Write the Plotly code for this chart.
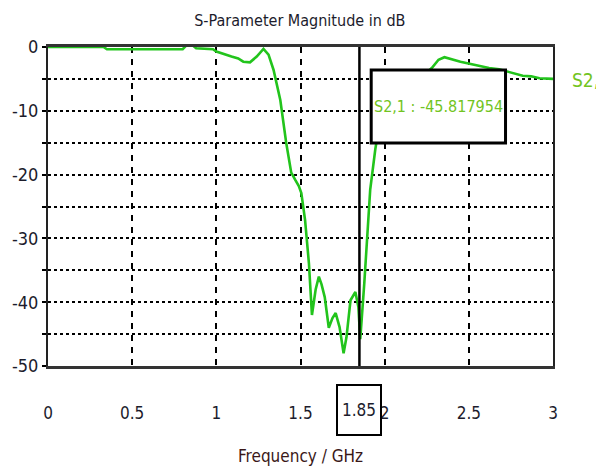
import plotly.graph_objects as go

# ---- data ----
freq_ghz = [0.0, 0.2, 0.33, 0.35, 0.6, 0.8, 0.82, 0.86, 0.88, 0.98, 1.0, 1.05, 1.09, 1.13,
            1.16, 1.2, 1.24, 1.28, 1.31, 1.34, 1.38, 1.415, 1.445, 1.468, 1.49, 1.505,
            1.527, 1.55, 1.568, 1.59, 1.609, 1.625, 1.644, 1.668, 1.69, 1.709, 1.732,
            1.756, 1.773, 1.797, 1.826, 1.844, 1.855, 1.879, 1.897, 1.914, 1.944, 1.96,
            2.05, 2.15, 2.25, 2.28, 2.32, 2.355, 2.45, 2.53, 2.62, 2.68, 2.73, 2.78,
            2.82, 2.87, 2.92, 3.0]
s21_db = [0.0, 0.0, 0.0, -0.35, -0.35, -0.35, 0.2, 0.25, -0.2, -0.35, -0.7, -1.2, -1.5, -1.8,
          -2.3, -2.4, -1.5, -0.3, -1.2, -3.6, -8.3, -15.0, -19.7, -20.8, -21.8, -22.9,
          -27.1, -33.9, -42.0, -38.0, -36.0, -37.2, -39.2, -44.0, -42.5, -41.7, -43.9,
          -48.0, -45.5, -39.7, -38.4, -40.8, -45.8, -37.0, -29.2, -22.4, -16.1, -13.5,
          -8.0, -5.5, -4.0, -3.3, -2.0, -1.6, -2.3, -2.8, -3.3, -3.5, -3.9, -4.2,
          -4.5, -4.6, -4.9, -5.0]
series_name = "S2,1"
marker_freq = 1.85
marker_value = -45.817954

x_tickvals = [0, 0.5, 1, 1.5, 2, 2.5, 3]
x_ticktext = ["0", "0.5", "1", "1.5", "2", "2.5", "3"]
y_tickvals = [0, -5, -10, -15, -20, -25, -30, -35, -40, -45, -50]
y_ticktext = ["0", "", "-10", "", "-20", "", "-30", "", "-40", "", "-50"]

FONT = "DejaVu Sans Condensed, Liberation Sans Narrow, sans-serif"
DARK = "#1c1c2c"
LINE_GREEN = "#22c41c"
TEXT_GREEN = "#72c422"

fig = go.Figure()
fig.add_trace(go.Scatter(x=freq_ghz, y=s21_db, mode="lines", name=series_name,
                         line=dict(color=LINE_GREEN, width=2.6), showlegend=False))

fig.update_layout(
    width=596, height=470,
    margin=dict(l=42, r=43, t=47, b=104),
    paper_bgcolor="white", plot_bgcolor="white",
    font=dict(family=FONT, color=DARK),
    title=dict(text="S-Parameter Magnitude in dB", x=0.503, xanchor="center",
               y=1 - 20 / 470, yanchor="middle",
               font=dict(family=FONT, size=16, color=DARK)),
)

fig.update_xaxes(range=[0, 3], tickvals=x_tickvals, ticktext=x_ticktext,
                 showgrid=True, gridcolor="black", gridwidth=1.5, griddash="6px,6px",
                 showline=True, linecolor="#333333", linewidth=2.5, mirror=True,
                 zeroline=False, ticks="", ticklabelstandoff=30,
                 tickfont=dict(family=FONT, size=17, color=DARK))
fig.update_yaxes(range=[-50, 0], tickvals=y_tickvals, ticktext=y_ticktext,
                 showgrid=True, gridcolor="black", gridwidth=2, griddash="dot",
                 showline=True, linecolor="#222222", linewidth=2, mirror=True,
                 zeroline=False, ticks="outside", ticklen=4, tickwidth=2, tickcolor="black",
                 tickfont=dict(family=FONT, size=18, color=DARK))

# marker line
fig.add_shape(type="line", xref="x", yref="paper", x0=marker_freq, x1=marker_freq,
              y0=0, y1=1, line=dict(color="black", width=2.5), layer="above")
# marker readout box
fig.add_shape(type="rect", xref="x", yref="y", x0=1.92, x1=2.718, y0=-15.05, y1=-3.6,
              fillcolor="white", line=dict(color="black", width=3), layer="above")
fig.add_annotation(x=2.319, y=-9.3, xref="x", yref="y", showarrow=False,
                   text=f"{series_name} : {marker_value:.6f}",
                   font=dict(family=FONT, size=16, color=TEXT_GREEN))
# marker frequency box on x axis
fig.add_annotation(x=marker_freq, y=-(410 - 366) / 319, xref="x", yref="paper",
                   showarrow=False, text=f"{marker_freq:g}", yanchor="middle",
                   width=40, height=46, bordercolor="black", borderwidth=2,
                   font=dict(family=FONT, size=17, color=DARK))
# series label at right
fig.add_annotation(x=(570 - 42) / 511, y=-5.2, xref="paper", yref="y", showarrow=False,
                   text=series_name, xanchor="left", yanchor="middle",
                   font=dict(family=FONT, size=19, color=TEXT_GREEN))
# x axis title
fig.add_annotation(x=0.5, y=-(456 - 366) / 319, xref="paper", yref="paper",
                   showarrow=False, text="Frequency / GHz", yanchor="middle",
                   font=dict(family=FONT, size=17, color="#3a1818"))

fig.write_html("out.html")
